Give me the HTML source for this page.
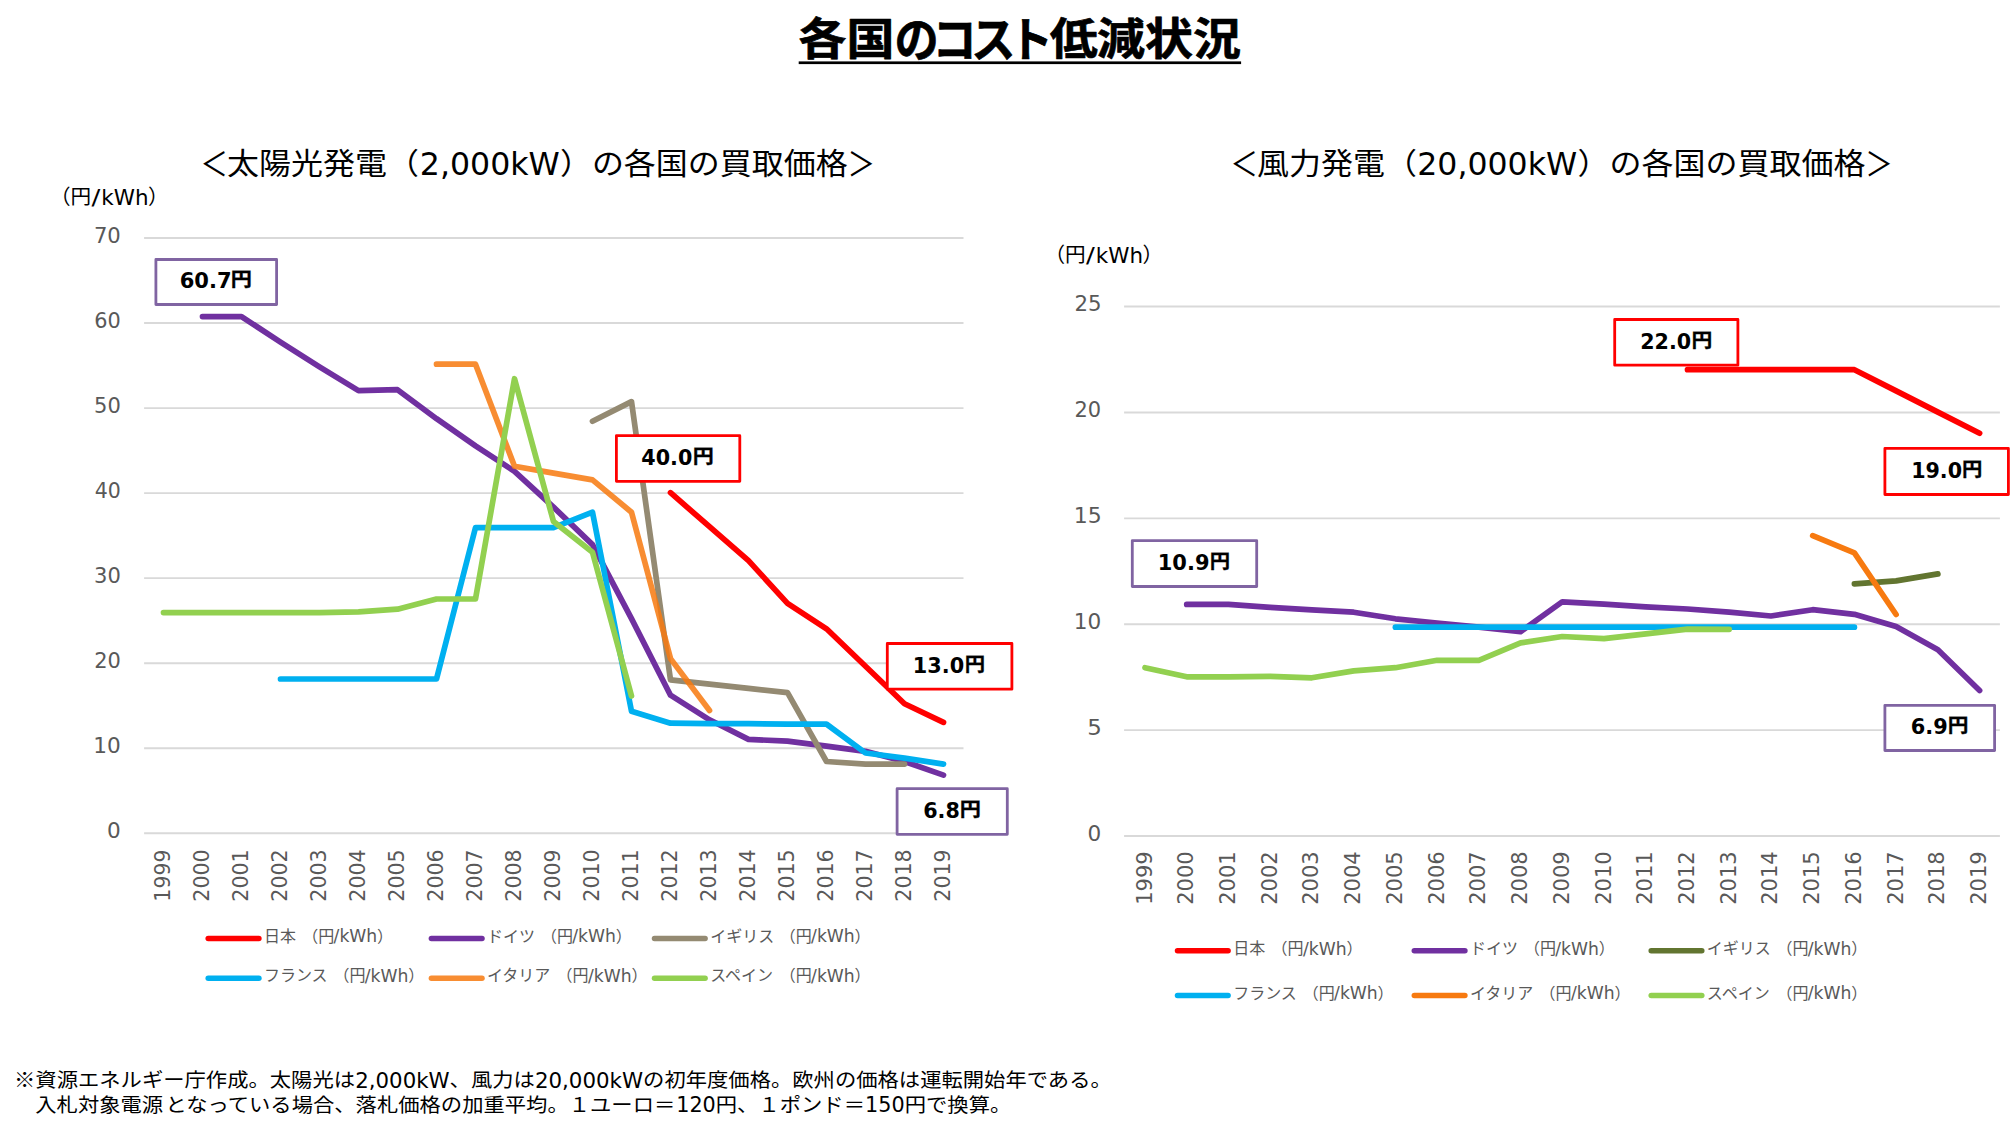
<!DOCTYPE html>
<html lang="ja"><head><meta charset="utf-8"><title>各国のコスト低減状況</title>
<style>
html,body{margin:0;padding:0;background:#fff}
body{width:2012px;height:1134px;overflow:hidden}
svg{display:block}
text{font-family:"Liberation Sans","Noto Sans CJK JP",sans-serif}
text.c{font-family:"Noto Sans CJK JP","Liberation Sans",sans-serif}
text.l{font-family:"DejaVu Sans","Liberation Sans",sans-serif}
</style></head><body>
<svg width="2012" height="1134" viewBox="0 0 2012 1134">
<rect width="2012" height="1134" fill="#fff"/>
<g><text class="c" font-size="44.8" font-weight="bold" stroke="#000" stroke-width="0.7" stroke-linejoin="round" transform="translate(0,55.0) scale(1.07,1)" x="746.30 791.03">各国</text><text class="c" font-size="47.5" font-weight="bold" stroke="#000" stroke-width="0.7" stroke-linejoin="round" transform="translate(0,56.5) scale(0.93,1)" x="961.92 1002.83 1044.42 1084.69">のコスト</text><text class="c" font-size="44.8" font-weight="bold" stroke="#000" stroke-width="0.7" stroke-linejoin="round" transform="translate(0,55.0) scale(1.07,1)" x="981.18 1025.33 1070.00 1114.95">低減状況</text></g>
<rect x="798.7" y="61.4" width="442.4" height="2.7" fill="#000"/>
<g><text class="c" font-size="33" transform="translate(200.25,175.80) scale(0.8400,1)">＜</text><text class="c" font-size="29.7" transform="translate(227.10,174.00) scale(1.0774,1)">太陽光発電（</text><text class="l" x="419.79" y="174.60" font-size="32.6" textLength="140.02" lengthAdjust="spacingAndGlyphs">2,000kW</text><text class="c" font-size="29.7" transform="translate(559.90,174.00) scale(1.0774,1)">）の各国の買取価格</text><text class="c" font-size="33" transform="translate(847.50,175.80) scale(0.8400,1)">＞</text></g>
<g><text class="c" font-size="33" transform="translate(1230.25,175.80) scale(0.8400,1)">＜</text><text class="c" font-size="29.7" transform="translate(1257.00,174.00) scale(1.0774,1)">風力発電（</text><text class="l" x="1417.29" y="174.60" font-size="32.6" textLength="159.82" lengthAdjust="spacingAndGlyphs">20,000kW</text><text class="c" font-size="29.7" transform="translate(1577.50,174.00) scale(1.0774,1)">）の各国の買取価格</text><text class="c" font-size="33" transform="translate(1865.20,175.80) scale(0.8400,1)">＞</text></g>
<g><text class="c" font-size="20.6" x="50.00" y="203.90">（円</text><text class="l" x="91.50" y="204.90" font-size="21.6" textLength="8.82" lengthAdjust="spacingAndGlyphs">/</text><text class="l" x="101.37" y="204.90" font-size="21.6" textLength="47.23" lengthAdjust="spacingAndGlyphs">kWh</text><text class="c" font-size="20.6" x="148.00" y="203.90">）</text></g>
<g><text class="c" font-size="20.6" x="1044.50" y="261.90">（円</text><text class="l" x="1086.00" y="262.90" font-size="21.6" textLength="8.82" lengthAdjust="spacingAndGlyphs">/</text><text class="l" x="1095.87" y="262.90" font-size="21.6" textLength="47.23" lengthAdjust="spacingAndGlyphs">kWh</text><text class="c" font-size="20.6" x="1142.50" y="261.90">）</text></g>
<g><text class="c" font-size="19.8" transform="translate(14.00,1087.40) scale(1.0773,1)">※資源エネルギー庁作成。太陽光は</text><text class="l" x="355.28" y="1087.50" font-size="22" textLength="94.30" lengthAdjust="spacingAndGlyphs">2,000kW</text><text class="c" font-size="19.8" transform="translate(449.58,1087.40) scale(1.0773,1)">、風力は</text><text class="l" x="534.90" y="1087.50" font-size="22" textLength="108.20" lengthAdjust="spacingAndGlyphs">20,000kW</text><text class="c" font-size="19.8" transform="translate(643.10,1087.40) scale(1.0773,1)">の初年度価格。欧州の価格は運転開始年である。</text></g>
<g><text class="c" font-size="19.8" transform="translate(35.30,1112.10) scale(1.0773,1)">入札対象電源</text><text class="c" font-size="19.8" transform="translate(165.48,1112.10) scale(1.0773,1)">となっている場合、落札価格の加重平均。１ユーロ＝</text><text class="l" x="676.20" y="1112.20" font-size="22" textLength="39.60" lengthAdjust="spacingAndGlyphs">120</text><text class="c" font-size="19.8" transform="translate(715.80,1112.10) scale(1.0773,1)">円、１ポンド＝</text><text class="l" x="865.11" y="1112.20" font-size="22" textLength="39.60" lengthAdjust="spacingAndGlyphs">150</text><text class="c" font-size="19.8" transform="translate(904.71,1112.10) scale(1.0773,1)">円で換算。</text></g>
<line x1="144.1" y1="833.30" x2="963.5" y2="833.30" stroke="#D9D9D9" stroke-width="1.9"/>
<text class="l" x="107.10" y="837.80" font-size="21.3" textLength="13.73" lengthAdjust="spacingAndGlyphs" fill="#595959">0</text>
<line x1="144.1" y1="748.26" x2="963.5" y2="748.26" stroke="#D9D9D9" stroke-width="1.9"/>
<text class="l" x="93.33" y="752.86" font-size="21.3" textLength="27.50" lengthAdjust="spacingAndGlyphs" fill="#595959">10</text>
<line x1="144.1" y1="663.21" x2="963.5" y2="663.21" stroke="#D9D9D9" stroke-width="1.9"/>
<text class="l" x="94.13" y="667.92" font-size="21.3" textLength="26.65" lengthAdjust="spacingAndGlyphs" fill="#595959">20</text>
<line x1="144.1" y1="578.17" x2="963.5" y2="578.17" stroke="#D9D9D9" stroke-width="1.9"/>
<text class="l" x="94.02" y="582.98" font-size="21.3" textLength="26.77" lengthAdjust="spacingAndGlyphs" fill="#595959">30</text>
<line x1="144.1" y1="493.13" x2="963.5" y2="493.13" stroke="#D9D9D9" stroke-width="1.9"/>
<text class="l" x="94.68" y="498.04" font-size="21.3" textLength="26.08" lengthAdjust="spacingAndGlyphs" fill="#595959">40</text>
<line x1="144.1" y1="408.08" x2="963.5" y2="408.08" stroke="#D9D9D9" stroke-width="1.9"/>
<text class="l" x="94.02" y="413.10" font-size="21.3" textLength="26.77" lengthAdjust="spacingAndGlyphs" fill="#595959">50</text>
<line x1="144.1" y1="323.04" x2="963.5" y2="323.04" stroke="#D9D9D9" stroke-width="1.9"/>
<text class="l" x="94.24" y="328.16" font-size="21.3" textLength="26.54" lengthAdjust="spacingAndGlyphs" fill="#595959">60</text>
<line x1="144.1" y1="238.00" x2="963.5" y2="238.00" stroke="#D9D9D9" stroke-width="1.9"/>
<text class="l" x="93.91" y="243.22" font-size="21.3" textLength="26.89" lengthAdjust="spacingAndGlyphs" fill="#595959">70</text>
<text class="l" transform="translate(170.00,901.64) rotate(-90)" font-size="21.3" fill="#595959" textLength="52.19" lengthAdjust="spacingAndGlyphs">1999</text>
<text class="l" transform="translate(209.00,901.64) rotate(-90)" font-size="21.3" fill="#595959" textLength="52.19" lengthAdjust="spacingAndGlyphs">2000</text>
<text class="l" transform="translate(248.00,901.64) rotate(-90)" font-size="21.3" fill="#595959" textLength="52.19" lengthAdjust="spacingAndGlyphs">2001</text>
<text class="l" transform="translate(287.00,901.64) rotate(-90)" font-size="21.3" fill="#595959" textLength="52.19" lengthAdjust="spacingAndGlyphs">2002</text>
<text class="l" transform="translate(326.00,901.64) rotate(-90)" font-size="21.3" fill="#595959" textLength="52.19" lengthAdjust="spacingAndGlyphs">2003</text>
<text class="l" transform="translate(365.00,901.64) rotate(-90)" font-size="21.3" fill="#595959" textLength="52.19" lengthAdjust="spacingAndGlyphs">2004</text>
<text class="l" transform="translate(404.00,901.64) rotate(-90)" font-size="21.3" fill="#595959" textLength="52.19" lengthAdjust="spacingAndGlyphs">2005</text>
<text class="l" transform="translate(443.00,901.64) rotate(-90)" font-size="21.3" fill="#595959" textLength="52.19" lengthAdjust="spacingAndGlyphs">2006</text>
<text class="l" transform="translate(482.00,901.64) rotate(-90)" font-size="21.3" fill="#595959" textLength="52.19" lengthAdjust="spacingAndGlyphs">2007</text>
<text class="l" transform="translate(521.00,901.64) rotate(-90)" font-size="21.3" fill="#595959" textLength="52.19" lengthAdjust="spacingAndGlyphs">2008</text>
<text class="l" transform="translate(560.00,901.64) rotate(-90)" font-size="21.3" fill="#595959" textLength="52.19" lengthAdjust="spacingAndGlyphs">2009</text>
<text class="l" transform="translate(599.00,901.64) rotate(-90)" font-size="21.3" fill="#595959" textLength="52.19" lengthAdjust="spacingAndGlyphs">2010</text>
<text class="l" transform="translate(638.00,901.64) rotate(-90)" font-size="21.3" fill="#595959" textLength="52.19" lengthAdjust="spacingAndGlyphs">2011</text>
<text class="l" transform="translate(677.00,901.64) rotate(-90)" font-size="21.3" fill="#595959" textLength="52.19" lengthAdjust="spacingAndGlyphs">2012</text>
<text class="l" transform="translate(716.00,901.64) rotate(-90)" font-size="21.3" fill="#595959" textLength="52.19" lengthAdjust="spacingAndGlyphs">2013</text>
<text class="l" transform="translate(755.00,901.64) rotate(-90)" font-size="21.3" fill="#595959" textLength="52.19" lengthAdjust="spacingAndGlyphs">2014</text>
<text class="l" transform="translate(794.00,901.64) rotate(-90)" font-size="21.3" fill="#595959" textLength="52.19" lengthAdjust="spacingAndGlyphs">2015</text>
<text class="l" transform="translate(833.00,901.64) rotate(-90)" font-size="21.3" fill="#595959" textLength="52.19" lengthAdjust="spacingAndGlyphs">2016</text>
<text class="l" transform="translate(872.00,901.64) rotate(-90)" font-size="21.3" fill="#595959" textLength="52.19" lengthAdjust="spacingAndGlyphs">2017</text>
<text class="l" transform="translate(911.00,901.64) rotate(-90)" font-size="21.3" fill="#595959" textLength="52.19" lengthAdjust="spacingAndGlyphs">2018</text>
<text class="l" transform="translate(950.00,901.64) rotate(-90)" font-size="21.3" fill="#595959" textLength="52.19" lengthAdjust="spacingAndGlyphs">2019</text>
<polyline points="670.5,492.7 709.5,526.7 748.5,560.7 787.5,603.3 826.5,628.8 865.5,666.2 904.5,703.7 943.5,722.4" fill="none" stroke="#FF0000" stroke-width="5.7" stroke-linecap="round" stroke-linejoin="round"/>
<polyline points="202.5,316.6 241.5,316.6 280.5,342.1 319.5,366.8 358.5,390.6 397.5,389.7 436.5,418.7 475.5,445.9 514.5,471.4 553.5,507.1 592.5,544.6 631.5,618.6 670.5,695.2 709.5,719.8 748.5,739.4 787.5,741.1 826.5,746.2 865.5,751.3 904.5,761.5 943.5,775.1" fill="none" stroke="#7030A0" stroke-width="5.7" stroke-linecap="round" stroke-linejoin="round"/>
<polyline points="592.5,421.2 631.5,401.6 670.5,679.9 709.5,684.1 748.5,688.4 787.5,692.6 826.5,761.5 865.5,764.1 904.5,764.1" fill="none" stroke="#948A72" stroke-width="5.7" stroke-linecap="round" stroke-linejoin="round"/>
<polyline points="280.5,679.0 319.5,679.0 358.5,679.0 397.5,679.0 436.5,679.0 475.5,527.6 514.5,527.6 553.5,527.6 592.5,512.2 631.5,711.3 670.5,723.2 709.5,723.7 748.5,723.7 787.5,724.1 826.5,724.1 865.5,753.0 904.5,758.1 943.5,764.1" fill="none" stroke="#00B0F0" stroke-width="5.7" stroke-linecap="round" stroke-linejoin="round"/>
<polyline points="436.5,364.2 475.5,364.2 514.5,466.3 553.5,473.1 592.5,479.9 631.5,512.2 670.5,658.6 709.5,710.5" fill="none" stroke="#F77A10" stroke-opacity="0.86" stroke-width="5.7" stroke-linecap="round" stroke-linejoin="round"/>
<polyline points="163.5,612.6 202.5,612.6 241.5,612.6 280.5,612.6 319.5,612.6 358.5,611.8 397.5,609.2 436.5,599.0 475.5,599.0 514.5,378.7 553.5,521.6 592.5,552.2 631.5,696.0" fill="none" stroke="#92D050" stroke-width="5.7" stroke-linecap="round" stroke-linejoin="round"/>
<line x1="1124.1" y1="836.00" x2="1999.9" y2="836.00" stroke="#D9D9D9" stroke-width="1.9"/>
<text class="l" x="1087.50" y="841.40" font-size="21.3" textLength="13.73" lengthAdjust="spacingAndGlyphs" fill="#595959">0</text>
<line x1="1124.1" y1="730.11" x2="1999.9" y2="730.11" stroke="#D9D9D9" stroke-width="1.9"/>
<text class="l" x="1087.18" y="735.30" font-size="21.3" textLength="14.60" lengthAdjust="spacingAndGlyphs" fill="#595959">5</text>
<line x1="1124.1" y1="624.22" x2="1999.9" y2="624.22" stroke="#D9D9D9" stroke-width="1.9"/>
<text class="l" x="1073.73" y="629.20" font-size="21.3" textLength="27.50" lengthAdjust="spacingAndGlyphs" fill="#595959">10</text>
<line x1="1124.1" y1="518.33" x2="1999.9" y2="518.33" stroke="#D9D9D9" stroke-width="1.9"/>
<text class="l" x="1073.69" y="523.10" font-size="21.3" textLength="28.01" lengthAdjust="spacingAndGlyphs" fill="#595959">15</text>
<line x1="1124.1" y1="412.44" x2="1999.9" y2="412.44" stroke="#D9D9D9" stroke-width="1.9"/>
<text class="l" x="1074.53" y="417.00" font-size="21.3" textLength="26.65" lengthAdjust="spacingAndGlyphs" fill="#595959">20</text>
<line x1="1124.1" y1="306.55" x2="1999.9" y2="306.55" stroke="#D9D9D9" stroke-width="1.9"/>
<text class="l" x="1074.51" y="310.90" font-size="21.3" textLength="27.13" lengthAdjust="spacingAndGlyphs" fill="#595959">25</text>
<text class="l" transform="translate(1151.50,904.77) rotate(-90)" font-size="21.3" fill="#595959" textLength="53.46" lengthAdjust="spacingAndGlyphs">1999</text>
<text class="l" transform="translate(1193.23,904.77) rotate(-90)" font-size="21.3" fill="#595959" textLength="53.46" lengthAdjust="spacingAndGlyphs">2000</text>
<text class="l" transform="translate(1234.96,904.77) rotate(-90)" font-size="21.3" fill="#595959" textLength="53.46" lengthAdjust="spacingAndGlyphs">2001</text>
<text class="l" transform="translate(1276.69,904.77) rotate(-90)" font-size="21.3" fill="#595959" textLength="53.46" lengthAdjust="spacingAndGlyphs">2002</text>
<text class="l" transform="translate(1318.42,904.77) rotate(-90)" font-size="21.3" fill="#595959" textLength="53.46" lengthAdjust="spacingAndGlyphs">2003</text>
<text class="l" transform="translate(1360.15,904.77) rotate(-90)" font-size="21.3" fill="#595959" textLength="53.46" lengthAdjust="spacingAndGlyphs">2004</text>
<text class="l" transform="translate(1401.88,904.77) rotate(-90)" font-size="21.3" fill="#595959" textLength="53.46" lengthAdjust="spacingAndGlyphs">2005</text>
<text class="l" transform="translate(1443.61,904.77) rotate(-90)" font-size="21.3" fill="#595959" textLength="53.46" lengthAdjust="spacingAndGlyphs">2006</text>
<text class="l" transform="translate(1485.34,904.77) rotate(-90)" font-size="21.3" fill="#595959" textLength="53.46" lengthAdjust="spacingAndGlyphs">2007</text>
<text class="l" transform="translate(1527.07,904.77) rotate(-90)" font-size="21.3" fill="#595959" textLength="53.46" lengthAdjust="spacingAndGlyphs">2008</text>
<text class="l" transform="translate(1568.80,904.77) rotate(-90)" font-size="21.3" fill="#595959" textLength="53.46" lengthAdjust="spacingAndGlyphs">2009</text>
<text class="l" transform="translate(1610.53,904.77) rotate(-90)" font-size="21.3" fill="#595959" textLength="53.46" lengthAdjust="spacingAndGlyphs">2010</text>
<text class="l" transform="translate(1652.26,904.77) rotate(-90)" font-size="21.3" fill="#595959" textLength="53.46" lengthAdjust="spacingAndGlyphs">2011</text>
<text class="l" transform="translate(1693.99,904.77) rotate(-90)" font-size="21.3" fill="#595959" textLength="53.46" lengthAdjust="spacingAndGlyphs">2012</text>
<text class="l" transform="translate(1735.72,904.77) rotate(-90)" font-size="21.3" fill="#595959" textLength="53.46" lengthAdjust="spacingAndGlyphs">2013</text>
<text class="l" transform="translate(1777.45,904.77) rotate(-90)" font-size="21.3" fill="#595959" textLength="53.46" lengthAdjust="spacingAndGlyphs">2014</text>
<text class="l" transform="translate(1819.18,904.77) rotate(-90)" font-size="21.3" fill="#595959" textLength="53.46" lengthAdjust="spacingAndGlyphs">2015</text>
<text class="l" transform="translate(1860.91,904.77) rotate(-90)" font-size="21.3" fill="#595959" textLength="53.46" lengthAdjust="spacingAndGlyphs">2016</text>
<text class="l" transform="translate(1902.64,904.77) rotate(-90)" font-size="21.3" fill="#595959" textLength="53.46" lengthAdjust="spacingAndGlyphs">2017</text>
<text class="l" transform="translate(1944.37,904.77) rotate(-90)" font-size="21.3" fill="#595959" textLength="53.46" lengthAdjust="spacingAndGlyphs">2018</text>
<text class="l" transform="translate(1986.10,904.77) rotate(-90)" font-size="21.3" fill="#595959" textLength="53.46" lengthAdjust="spacingAndGlyphs">2019</text>
<polyline points="1687.5,369.7 1729.2,369.7 1770.9,369.7 1812.7,369.7 1854.4,369.7 1896.1,390.9 1937.9,412.1 1979.6,433.3" fill="none" stroke="#FF0000" stroke-width="5.7" stroke-linecap="round" stroke-linejoin="round"/>
<polyline points="1186.7,604.4 1228.5,604.4 1270.2,607.3 1311.9,609.9 1353.7,612.2 1395.4,618.8 1437.1,623.0 1478.8,627.2 1520.6,631.7 1562.3,601.8 1604.0,604.1 1645.8,606.9 1687.5,609.0 1729.2,612.2 1770.9,616.0 1812.7,609.7 1854.4,614.3 1896.1,626.4 1937.9,649.7 1979.6,690.5" fill="none" stroke="#7030A0" stroke-width="5.7" stroke-linecap="round" stroke-linejoin="round"/>
<polyline points="1854.4,583.8 1896.1,580.9 1937.9,573.9" fill="none" stroke="#627530" stroke-width="5.7" stroke-linecap="round" stroke-linejoin="round"/>
<polyline points="1395.4,627.2 1854.4,627.2" fill="none" stroke="#00B0F0" stroke-width="5.7" stroke-linecap="round" stroke-linejoin="round"/>
<polyline points="1812.7,535.7 1854.4,552.9 1896.1,614.5" fill="none" stroke="#F77A10" stroke-width="5.7" stroke-linecap="round" stroke-linejoin="round"/>
<polyline points="1145.0,667.7 1186.7,676.8 1228.5,676.8 1270.2,676.4 1311.9,677.8 1353.7,670.9 1395.4,667.7 1437.1,660.3 1478.8,660.3 1520.6,642.9 1562.3,636.5 1604.0,638.7 1645.8,633.8 1687.5,629.1 1729.2,629.3" fill="none" stroke="#92D050" stroke-width="5.7" stroke-linecap="round" stroke-linejoin="round"/>
<rect x="155.90" y="259.50" width="120.70" height="45.00" fill="#fff" stroke="#8064A2" stroke-width="2.8" stroke-linejoin="round"/>
<g><text class="l" x="179.74" y="288.30" font-size="21.5" textLength="51.85" lengthAdjust="spacingAndGlyphs" font-weight="bold">60.7</text><text class="c" font-size="19.7" transform="translate(230.86,286.23) scale(1.0746,1)" font-weight="bold" stroke="#000" stroke-width="0.35">円</text></g>
<rect x="616.40" y="435.70" width="123.40" height="45.60" fill="#fff" stroke="#FF0000" stroke-width="2.8" stroke-linejoin="round"/>
<g><text class="l" x="641.37" y="464.80" font-size="21.5" textLength="50.97" lengthAdjust="spacingAndGlyphs" font-weight="bold">40.0</text><text class="c" font-size="19.7" transform="translate(692.67,462.73) scale(1.0687,1)" font-weight="bold" stroke="#000" stroke-width="0.35">円</text></g>
<rect x="887.30" y="643.50" width="124.60" height="45.70" fill="#fff" stroke="#FF0000" stroke-width="2.8" stroke-linejoin="round"/>
<g><text class="l" x="912.81" y="672.65" font-size="21.5" textLength="51.34" lengthAdjust="spacingAndGlyphs" font-weight="bold">13.0</text><text class="c" font-size="19.7" transform="translate(964.72,670.58) scale(1.0330,1)" font-weight="bold" stroke="#000" stroke-width="0.35">円</text></g>
<rect x="897.10" y="788.70" width="110.20" height="45.60" fill="#fff" stroke="#8064A2" stroke-width="2.8" stroke-linejoin="round"/>
<g><text class="l" x="923.26" y="817.80" font-size="21.5" textLength="36.60" lengthAdjust="spacingAndGlyphs" font-weight="bold">6.8</text><text class="c" font-size="19.7" transform="translate(959.86,815.73) scale(1.0746,1)" font-weight="bold" stroke="#000" stroke-width="0.35">円</text></g>
<rect x="1132.30" y="540.60" width="124.40" height="45.90" fill="#fff" stroke="#8064A2" stroke-width="2.8" stroke-linejoin="round"/>
<g><text class="l" x="1157.80" y="569.85" font-size="21.5" textLength="51.68" lengthAdjust="spacingAndGlyphs" font-weight="bold">10.9</text><text class="c" font-size="19.7" transform="translate(1209.72,567.78) scale(1.0330,1)" font-weight="bold" stroke="#000" stroke-width="0.35">円</text></g>
<rect x="1614.70" y="319.50" width="123.20" height="45.70" fill="#fff" stroke="#FF0000" stroke-width="2.8" stroke-linejoin="round"/>
<g><text class="l" x="1640.25" y="348.65" font-size="21.5" textLength="50.89" lengthAdjust="spacingAndGlyphs" font-weight="bold">22.0</text><text class="c" font-size="19.7" transform="translate(1691.39,346.58) scale(1.0568,1)" font-weight="bold" stroke="#000" stroke-width="0.35">円</text></g>
<rect x="1884.90" y="448.40" width="123.50" height="46.10" fill="#fff" stroke="#FF0000" stroke-width="2.8" stroke-linejoin="round"/>
<g><text class="l" x="1911.13" y="477.75" font-size="21.5" textLength="50.92" lengthAdjust="spacingAndGlyphs" font-weight="bold">19.0</text><text class="c" font-size="19.7" transform="translate(1962.02,475.68) scale(1.0330,1)" font-weight="bold" stroke="#000" stroke-width="0.35">円</text></g>
<rect x="1884.90" y="705.30" width="109.70" height="45.20" fill="#fff" stroke="#8064A2" stroke-width="2.8" stroke-linejoin="round"/>
<g><text class="l" x="1910.75" y="734.20" font-size="21.5" textLength="37.02" lengthAdjust="spacingAndGlyphs" font-weight="bold">6.9</text><text class="c" font-size="19.7" transform="translate(1947.70,732.13) scale(1.0509,1)" font-weight="bold" stroke="#000" stroke-width="0.35">円</text></g>
<line x1="208.2" y1="938.6" x2="258.9" y2="938.6" stroke="#FF0000" stroke-width="5.5" stroke-linecap="round"/>
<g><text class="c" font-size="16" x="263.90" y="941.60" fill="#595959">日本 </text><text class="c" font-size="16" x="302.30" y="941.60" fill="#595959">（円</text><text class="l" x="333.60" y="942.40" font-size="17.1" textLength="43.64" lengthAdjust="spacingAndGlyphs" fill="#595959">/kWh</text><text class="c" font-size="16" x="377.10" y="941.60" fill="#595959">）</text></g>
<line x1="431.4" y1="938.6" x2="482.0" y2="938.6" stroke="#7030A0" stroke-width="5.5" stroke-linecap="round"/>
<g><text class="c" font-size="16" x="487.00" y="941.60" fill="#595959">ドイツ </text><text class="c" font-size="16" x="541.00" y="941.60" fill="#595959">（円</text><text class="l" x="572.30" y="942.40" font-size="17.1" textLength="43.64" lengthAdjust="spacingAndGlyphs" fill="#595959">/kWh</text><text class="c" font-size="16" x="615.80" y="941.60" fill="#595959">）</text></g>
<line x1="654.5" y1="938.6" x2="705.1" y2="938.6" stroke="#948A72" stroke-width="5.5" stroke-linecap="round"/>
<g><text class="c" font-size="16" x="710.20" y="941.60" fill="#595959">イギリス </text><text class="c" font-size="16" x="779.80" y="941.60" fill="#595959">（円</text><text class="l" x="811.10" y="942.40" font-size="17.1" textLength="43.64" lengthAdjust="spacingAndGlyphs" fill="#595959">/kWh</text><text class="c" font-size="16" x="854.60" y="941.60" fill="#595959">）</text></g>
<line x1="208.2" y1="978.3" x2="258.9" y2="978.3" stroke="#00B0F0" stroke-width="5.5" stroke-linecap="round"/>
<g><text class="c" font-size="16" x="263.90" y="981.30" fill="#595959">フランス </text><text class="c" font-size="16" x="333.50" y="981.30" fill="#595959">（円</text><text class="l" x="364.80" y="982.10" font-size="17.1" textLength="43.64" lengthAdjust="spacingAndGlyphs" fill="#595959">/kWh</text><text class="c" font-size="16" x="408.30" y="981.30" fill="#595959">）</text></g>
<line x1="431.4" y1="978.3" x2="482.0" y2="978.3" stroke="#F77A10" stroke-opacity="0.86" stroke-width="5.5" stroke-linecap="round"/>
<g><text class="c" font-size="16" x="487.00" y="981.30" fill="#595959">イタリア </text><text class="c" font-size="16" x="556.60" y="981.30" fill="#595959">（円</text><text class="l" x="587.90" y="982.10" font-size="17.1" textLength="43.64" lengthAdjust="spacingAndGlyphs" fill="#595959">/kWh</text><text class="c" font-size="16" x="631.40" y="981.30" fill="#595959">）</text></g>
<line x1="654.5" y1="978.3" x2="705.1" y2="978.3" stroke="#92D050" stroke-width="5.5" stroke-linecap="round"/>
<g><text class="c" font-size="16" x="710.20" y="981.30" fill="#595959">スペイン </text><text class="c" font-size="16" x="779.80" y="981.30" fill="#595959">（円</text><text class="l" x="811.10" y="982.10" font-size="17.1" textLength="43.64" lengthAdjust="spacingAndGlyphs" fill="#595959">/kWh</text><text class="c" font-size="16" x="854.60" y="981.30" fill="#595959">）</text></g>
<line x1="1177.5" y1="950.7" x2="1228.1" y2="950.7" stroke="#FF0000" stroke-width="5.5" stroke-linecap="round"/>
<g><text class="c" font-size="16" x="1233.20" y="953.70" fill="#595959">日本 </text><text class="c" font-size="16" x="1271.60" y="953.70" fill="#595959">（円</text><text class="l" x="1302.90" y="954.50" font-size="17.1" textLength="43.64" lengthAdjust="spacingAndGlyphs" fill="#595959">/kWh</text><text class="c" font-size="16" x="1346.40" y="953.70" fill="#595959">）</text></g>
<line x1="1414.3" y1="950.7" x2="1464.9" y2="950.7" stroke="#7030A0" stroke-width="5.5" stroke-linecap="round"/>
<g><text class="c" font-size="16" x="1470.00" y="953.70" fill="#595959">ドイツ </text><text class="c" font-size="16" x="1524.00" y="953.70" fill="#595959">（円</text><text class="l" x="1555.30" y="954.50" font-size="17.1" textLength="43.64" lengthAdjust="spacingAndGlyphs" fill="#595959">/kWh</text><text class="c" font-size="16" x="1598.80" y="953.70" fill="#595959">）</text></g>
<line x1="1651.2" y1="950.7" x2="1701.8" y2="950.7" stroke="#627530" stroke-width="5.5" stroke-linecap="round"/>
<g><text class="c" font-size="16" x="1706.80" y="953.70" fill="#595959">イギリス </text><text class="c" font-size="16" x="1776.40" y="953.70" fill="#595959">（円</text><text class="l" x="1807.70" y="954.50" font-size="17.1" textLength="43.64" lengthAdjust="spacingAndGlyphs" fill="#595959">/kWh</text><text class="c" font-size="16" x="1851.20" y="953.70" fill="#595959">）</text></g>
<line x1="1177.5" y1="995.5" x2="1228.1" y2="995.5" stroke="#00B0F0" stroke-width="5.5" stroke-linecap="round"/>
<g><text class="c" font-size="16" x="1233.20" y="998.50" fill="#595959">フランス </text><text class="c" font-size="16" x="1302.80" y="998.50" fill="#595959">（円</text><text class="l" x="1334.10" y="999.30" font-size="17.1" textLength="43.64" lengthAdjust="spacingAndGlyphs" fill="#595959">/kWh</text><text class="c" font-size="16" x="1377.60" y="998.50" fill="#595959">）</text></g>
<line x1="1414.3" y1="995.5" x2="1464.9" y2="995.5" stroke="#F77A10" stroke-width="5.5" stroke-linecap="round"/>
<g><text class="c" font-size="16" x="1470.00" y="998.50" fill="#595959">イタリア </text><text class="c" font-size="16" x="1539.60" y="998.50" fill="#595959">（円</text><text class="l" x="1570.90" y="999.30" font-size="17.1" textLength="43.64" lengthAdjust="spacingAndGlyphs" fill="#595959">/kWh</text><text class="c" font-size="16" x="1614.40" y="998.50" fill="#595959">）</text></g>
<line x1="1651.2" y1="995.5" x2="1701.8" y2="995.5" stroke="#92D050" stroke-width="5.5" stroke-linecap="round"/>
<g><text class="c" font-size="16" x="1706.80" y="998.50" fill="#595959">スペイン </text><text class="c" font-size="16" x="1776.40" y="998.50" fill="#595959">（円</text><text class="l" x="1807.70" y="999.30" font-size="17.1" textLength="43.64" lengthAdjust="spacingAndGlyphs" fill="#595959">/kWh</text><text class="c" font-size="16" x="1851.20" y="998.50" fill="#595959">）</text></g>
</svg>
</body></html>
